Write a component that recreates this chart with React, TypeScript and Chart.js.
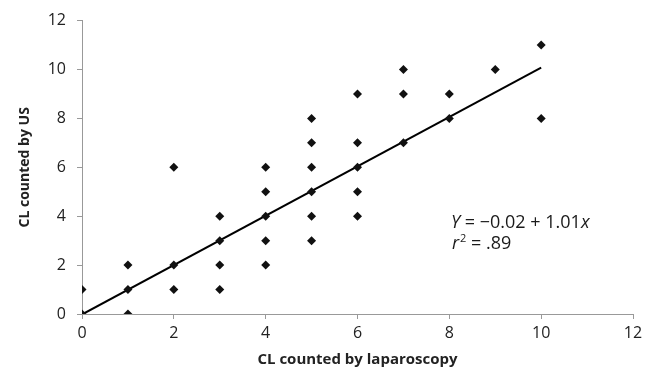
import React, { useEffect, useRef } from "react";
import { Chart, registerables } from "chart.js";

Chart.register(...registerables);

// Observations: laparoscopy count (x) vs ultrasound count (y)
const lapCounts = [0, 0, 1, 1, 1, 2, 2, 2, 3, 3, 3, 3, 4, 4, 4, 4, 4, 5, 5, 5, 5, 5, 5, 6, 6, 6, 6, 6, 7, 7, 7, 8, 8, 9, 10, 10];
const usCounts = [0, 1, 0, 1, 2, 1, 2, 6, 1, 2, 3, 4, 2, 3, 4, 5, 6, 3, 4, 5, 6, 7, 8, 4, 5, 6, 7, 9, 7, 9, 10, 8, 9, 10, 8, 11];

// Regression line
const intercept = -0.02;
const slope = 1.01;
const lineX = [0, 10];

const xTicks = [0, 2, 4, 6, 8, 10, 12];
const yTicks = [0, 2, 4, 6, 8, 10, 12];

const xTitle = "CL counted by laparoscopy";
const yTitle = "CL counted by US";
const eqLine = [
  { t: "Y", i: true },
  { t: " = \u22120.02 + 1.01", i: false },
  { t: "x", i: true },
];
const r2Line = { base: "r", sup: "2", rest: " = .89" };

const FONT = "'Open Sans', 'Noto Sans', sans-serif";

export default function App() {
  const ref = useRef<HTMLCanvasElement>(null);

  useEffect(() => {
    document.body.style.margin = "0";
    const canvas = ref.current!;
    const annot = {
      id: "annot",
      afterDraw(chart: any) {
        const ctx = chart.ctx;
        ctx.save();
        ctx.fillStyle = "#1a1a1a";
        ctx.textBaseline = "middle";
        let x = 451;
        const y1 = 223;
        for (const p of eqLine) {
          ctx.font = `${p.i ? "italic " : ""}18px ${FONT}`;
          ctx.fillText(p.t, x, y1);
          x += ctx.measureText(p.t).width;
        }
        const y2 = 244;
        x = 452;
        ctx.font = `italic 18px ${FONT}`;
        ctx.fillText(r2Line.base, x, y2);
        x += ctx.measureText(r2Line.base).width + 1;
        ctx.font = `11px ${FONT}`;
        ctx.fillText(r2Line.sup, x, y2 - 5);
        x += ctx.measureText(r2Line.sup).width;
        ctx.font = `18px ${FONT}`;
        ctx.fillText(r2Line.rest, x, y2);
        ctx.restore();
      },
    };

    const chart = new Chart(canvas, {
      type: "scatter",
      data: {
        datasets: [
          {
            type: "line",
            data: lineX.map((x) => ({ x, y: intercept + slope * x })),
            borderColor: "#000",
            borderWidth: 2,
            pointRadius: 0,
            fill: false,
            order: 2,
          } as any,
          {
            data: lapCounts.map((x, i) => ({ x, y: usCounts[i] })),
            pointStyle: "rectRot",
            pointRadius: 4.5,
            backgroundColor: "#111",
            borderColor: "#111",
            borderWidth: 0,
            order: 1,
          },
        ],
      },
      options: {
        animation: false,
        responsive: false,
        layout: { padding: { top: 16, right: 21, left: 0, bottom: 0 } },
        plugins: { legend: { display: false }, tooltip: { enabled: false } },
        scales: {
          x: {
            type: "linear",
            min: 0,
            max: 12,
            afterBuildTicks: (s: any) => {
              s.ticks = xTicks.map((v) => ({ value: v }));
            },
            afterFit: (s: any) => {
              s.height = 57;
            },
            grid: { drawOnChartArea: false, drawTicks: true, tickLength: 5, color: "#999" },
            border: { color: "#999", width: 1 },
            ticks: { color: "#222", font: { family: FONT, size: 16 }, padding: 5, maxRotation: 0 },
            title: {
              display: true,
              text: xTitle,
              color: "#222",
              font: { family: FONT, size: 15, weight: "bold" },
              padding: { top: 0, bottom: 2 },
            },
          },
          y: {
            type: "linear",
            min: 0,
            max: 12,
            afterBuildTicks: (s: any) => {
              s.ticks = yTicks.map((v) => ({ value: v }));
            },
            afterFit: (s: any) => {
              s.width = 82;
            },
            grid: { drawOnChartArea: false, drawTicks: true, tickLength: 5, color: "#999" },
            border: { color: "#999", width: 1 },
            ticks: { color: "#222", font: { family: FONT, size: 16 }, padding: 11 },
            title: {
              display: true,
              text: yTitle,
              color: "#222",
              font: { family: FONT, size: 14, weight: "bold" },
              padding: { top: 17, bottom: 0 },
            },
          },
        },
      },
      plugins: [annot],
    });
    return () => chart.destroy();
  }, []);

  return <canvas ref={ref} width={654} height={371} style={{ display: "block" }} />;
}
